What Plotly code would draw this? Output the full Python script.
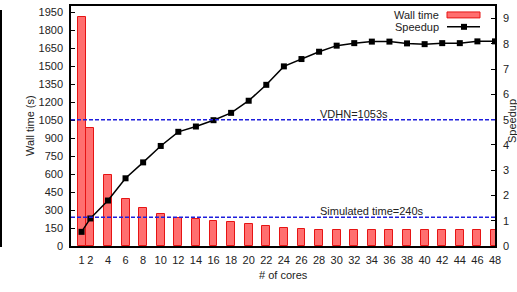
import plotly.graph_objects as go

cores = [1, 2, 4, 6, 8, 10, 12, 14, 16, 18, 20, 22, 24, 26, 28, 30, 32, 34, 36, 38, 40, 42, 44, 46, 48]
wall_time = [1905, 985, 590, 393, 320, 268, 236, 221, 211, 200, 183, 167, 149, 144, 137, 133,
             131, 130, 130, 131, 132, 131, 131, 130, 130]
speedup = [0.56, 1.09, 1.80, 2.68, 3.31, 3.96, 4.52, 4.73, 4.98, 5.27, 5.75, 6.38, 7.11, 7.40,
           7.69, 7.93, 8.03, 8.09, 8.09, 8.02, 7.99, 8.03, 8.03, 8.10, 8.10]
vdhn_time = 1053
simulated_time = 240
left_ticks = list(range(0, 2000, 150))
right_ticks = list(range(0, 10))

W, H = 517, 292
L, R, T, B = 71, 22, 4, 46
PW, PH = W - L - R, H - T - B
FONT = "Liberation Sans, Arial, Helvetica, sans-serif"


def px(x):
    return (x - L) / PW


def py(y):
    return (H - B - y) / PH


fig = go.Figure()
fig.add_trace(go.Bar(
    x=cores, y=wall_time, width=0.9, name="Wall time",
    marker=dict(color="rgba(255,70,70,0.78)", line=dict(color="rgb(230,20,20)", width=1)),
    showlegend=False, cliponaxis=True,
))
fig.add_trace(go.Scatter(
    x=cores, y=speedup, yaxis="y2", mode="lines+markers", name="Speedup",
    line=dict(color="black", width=1.5),
    marker=dict(symbol="square", size=6, color="black"),
    showlegend=False,
))

shapes = [
    dict(type="line", xref="paper", x0=0, x1=1, yref="y", y0=vdhn_time, y1=vdhn_time,
         line=dict(color="rgb(30,30,220)", width=1.5, dash="4px,2px")),
    dict(type="line", xref="paper", x0=0, x1=1, yref="y", y0=simulated_time, y1=simulated_time,
         line=dict(color="rgb(30,30,220)", width=1.5, dash="4px,2px")),
    # legend swatches
    dict(type="rect", xref="paper", yref="paper", x0=px(447), x1=px(480), y0=py(16), y1=py(10),
         fillcolor="rgba(255,70,70,0.78)", line=dict(color="rgb(230,20,20)", width=1)),
    dict(type="line", xref="paper", yref="paper", x0=px(447), x1=px(480), y0=py(25), y1=py(25),
         line=dict(color="black", width=1.5)),
    dict(type="rect", xref="paper", yref="paper", x0=px(461), x1=px(467), y0=py(28), y1=py(22),
         fillcolor="black", line=dict(color="black", width=0)),
    # stray border line at left edge
    dict(type="line", xref="paper", yref="paper", x0=px(1), x1=px(1), y0=py(8), y1=py(247),
         line=dict(color="black", width=2)),
]

annotations = [
    dict(text="VDHN=1053s", xref="paper", x=px(354), xanchor="center", yref="y", y=vdhn_time,
         yanchor="bottom", showarrow=False, font=dict(size=11, color="#222", family=FONT), yshift=-2),
    dict(text="Simulated time=240s", xref="paper", x=px(372), xanchor="center", yref="y",
         y=simulated_time, yanchor="bottom", showarrow=False,
         font=dict(size=11, color="#222", family=FONT), yshift=-2),
    dict(text="Wall time", xref="paper", yref="paper", x=px(441), y=py(13), xanchor="right",
         yanchor="middle", showarrow=False, font=dict(size=11, color="#222", family=FONT)),
    dict(text="Speedup", xref="paper", yref="paper", x=px(441), y=py(25), xanchor="right",
         yanchor="middle", showarrow=False, font=dict(size=11, color="#222", family=FONT)),
    dict(text="Wall time (s)", xref="paper", yref="paper", x=px(30), y=py(125), textangle=-90,
         xanchor="center", yanchor="middle", showarrow=False,
         font=dict(size=11, color="#222", family=FONT)),
    dict(text="Speedup", xref="paper", yref="paper", x=px(512), y=py(120), textangle=-90,
         xanchor="center", yanchor="middle", showarrow=False,
         font=dict(size=11, color="#222", family=FONT)),
    dict(text="# of cores", xref="paper", yref="paper", x=px(283), y=py(275),
         xanchor="center", yanchor="middle", showarrow=False,
         font=dict(size=11, color="#222", family=FONT)),
]

fig.update_layout(
    width=W, height=H, margin=dict(l=L, r=R, t=T, b=B),
    paper_bgcolor="white", plot_bgcolor="white",
    font=dict(family=FONT, size=11, color="#222"),
    xaxis=dict(range=[-0.2, 48], tickvals=cores, ticktext=[str(c) for c in cores],
               showgrid=False, zeroline=False, showline=True, linecolor="black", linewidth=1.5,
               mirror=True, ticks="", ticklabelstandoff=3),
    yaxis=dict(range=[0, 2000], tickvals=left_ticks, showgrid=False, zeroline=False,
               showline=True, linecolor="black", linewidth=1.5, ticks="inside", ticklen=4,
               tickcolor="black", ticklabelstandoff=4),
    yaxis2=dict(range=[0, 9.5], tickvals=right_ticks, overlaying="y", side="right",
                showgrid=False, zeroline=False, showline=True, linecolor="black", linewidth=1.5,
                ticks="inside", ticklen=4, tickcolor="black", ticklabelstandoff=4),
    shapes=shapes, annotations=annotations, bargap=0,
)

fig.write_html("out.html")
